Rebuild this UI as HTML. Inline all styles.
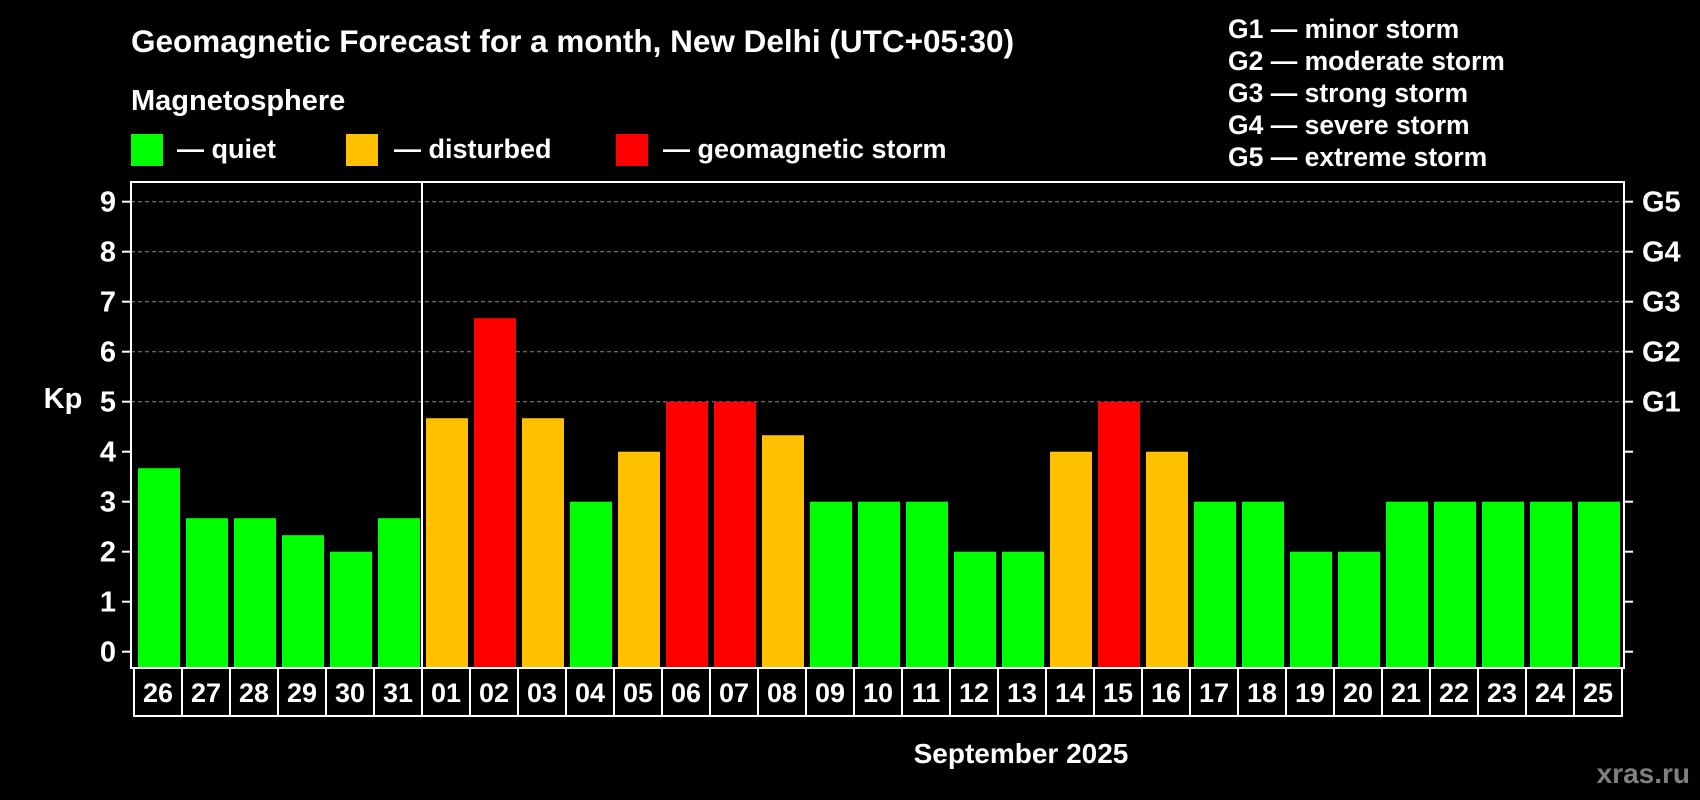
<!DOCTYPE html>
<html><head><meta charset="utf-8"><style>
html,body{margin:0;padding:0;background:#000;}
svg{display:block;font-family:"Liberation Sans",Arial,sans-serif;font-weight:bold;}
</style></head><body>
<svg id="chart" width="1700" height="800" viewBox="0 0 1700 800">
<rect width="1700" height="800" fill="#000"/>
<text x="131" y="52" fill="#fff" font-size="31.5">Geomagnetic Forecast for a month, New Delhi (UTC+05:30)</text>
<text x="131" y="110" fill="#fff" font-size="29">Magnetosphere</text>
<g><rect x="131" y="134" width="32" height="32" fill="#00ff00"/><text x="177" y="158" fill="#fff" font-size="27">— quiet</text></g>
<g><rect x="346" y="134" width="32" height="32" fill="#ffc000"/><text x="394" y="158" fill="#fff" font-size="27">— disturbed</text></g>
<g><rect x="616" y="134" width="32" height="32" fill="#ff0000"/><text x="663" y="158" fill="#fff" font-size="27">— geomagnetic storm</text></g>
<g fill="#fff" font-size="26.5">
<text x="1228" y="38">G1 — minor storm</text>
<text x="1228" y="70">G2 — moderate storm</text>
<text x="1228" y="102">G3 — strong storm</text>
<text x="1228" y="134">G4 — severe storm</text>
<text x="1228" y="166">G5 — extreme storm</text>
</g>
<text x="63" y="408" fill="#fff" font-size="29" text-anchor="middle">Kp</text>
<text x="1021" y="763" fill="#fff" font-size="28" text-anchor="middle">September 2025</text>
<text x="1690" y="783" fill="#808080" font-size="28" text-anchor="end">xras.ru</text>
<g id="grid"></g><g id="bars"></g><g id="axes"></g>
</svg>
<script>
const days=["26","27","28","29","30","31","01","02","03","04","05","06","07","08","09","10","11","12","13","14","15","16","17","18","19","20","21","22","23","24","25"];
const kp=[3.67,2.67,2.67,2.33,2,2.67,4.67,6.67,4.67,3,4,5,5,4.33,3,3,3,2,2,4,5,4,3,3,2,2,3,3,3,3,3];
const yTicks=[0,1,2,3,4,5,6,7,8,9];
const gLabels=["","","","","","G1","G2","G3","G4","G5"];
const NS="http://www.w3.org/2000/svg";
const L=131,R=1624,T=182,B=668,slot0=134,slotW=48;
const y=v=>651.7-v*50;
const x=i=>slot0+i*slotW;
function mk(tag,a,parent){const e=document.createElementNS(NS,tag);for(const k in a)e.setAttribute(k,a[k]);parent.appendChild(e);return e;}
const grid=document.getElementById('grid'),bars=document.getElementById('bars'),axes=document.getElementById('axes');
yTicks.forEach((t,i)=>{
  if(t>=5){const g=mk('line',{x1:L,x2:R,y1:y(t),y2:y(t),stroke:'#888','stroke-width':1,'stroke-dasharray':'4,3'},grid);
  
  }
  const tl=mk('line',{x1:L-9,x2:L,y1:y(t),y2:y(t),stroke:'#fff','stroke-width':2},axes);
  
  
  const tr=mk('line',{x1:R,x2:R+9,y1:y(t),y2:y(t),stroke:'#fff','stroke-width':2},axes);
  
  
  const lb=mk('text',{x:116,y:y(t)+10,fill:'#fff','font-size':29,'text-anchor':'end'},axes);lb.textContent=t;
  
  
  if(gLabels[i]){const g=mk('text',{x:1642,y:y(t)+10,fill:'#fff','font-size':29},axes);g.textContent=gLabels[i];
  
  }
});
kp.forEach((v,i)=>{
  const c=v>=5?'#ff0000':(v>=4?'#ffc000':'#00ff00');
  const b=mk('rect',{x:x(i)+4,y:y(v),width:42,height:B-y(v),fill:c},bars);
  
  
  const bx=mk('rect',{x:x(i),y:B,width:slotW,height:48,fill:'none',stroke:'#fff','stroke-width':2},axes);
  
  
  const t=mk('text',{x:x(i)+slotW/2,y:B+34,fill:'#fff','font-size':27,'text-anchor':'middle'},axes);t.textContent=days[i];
  
  
});
const fr=mk('rect',{x:L,y:T,width:R-L,height:B-T,fill:'none',stroke:'#fff','stroke-width':2},axes);


const sep=mk('line',{x1:x(6),x2:x(6),y1:T,y2:B,stroke:'#fff','stroke-width':2},axes);


</script>
</body></html>
